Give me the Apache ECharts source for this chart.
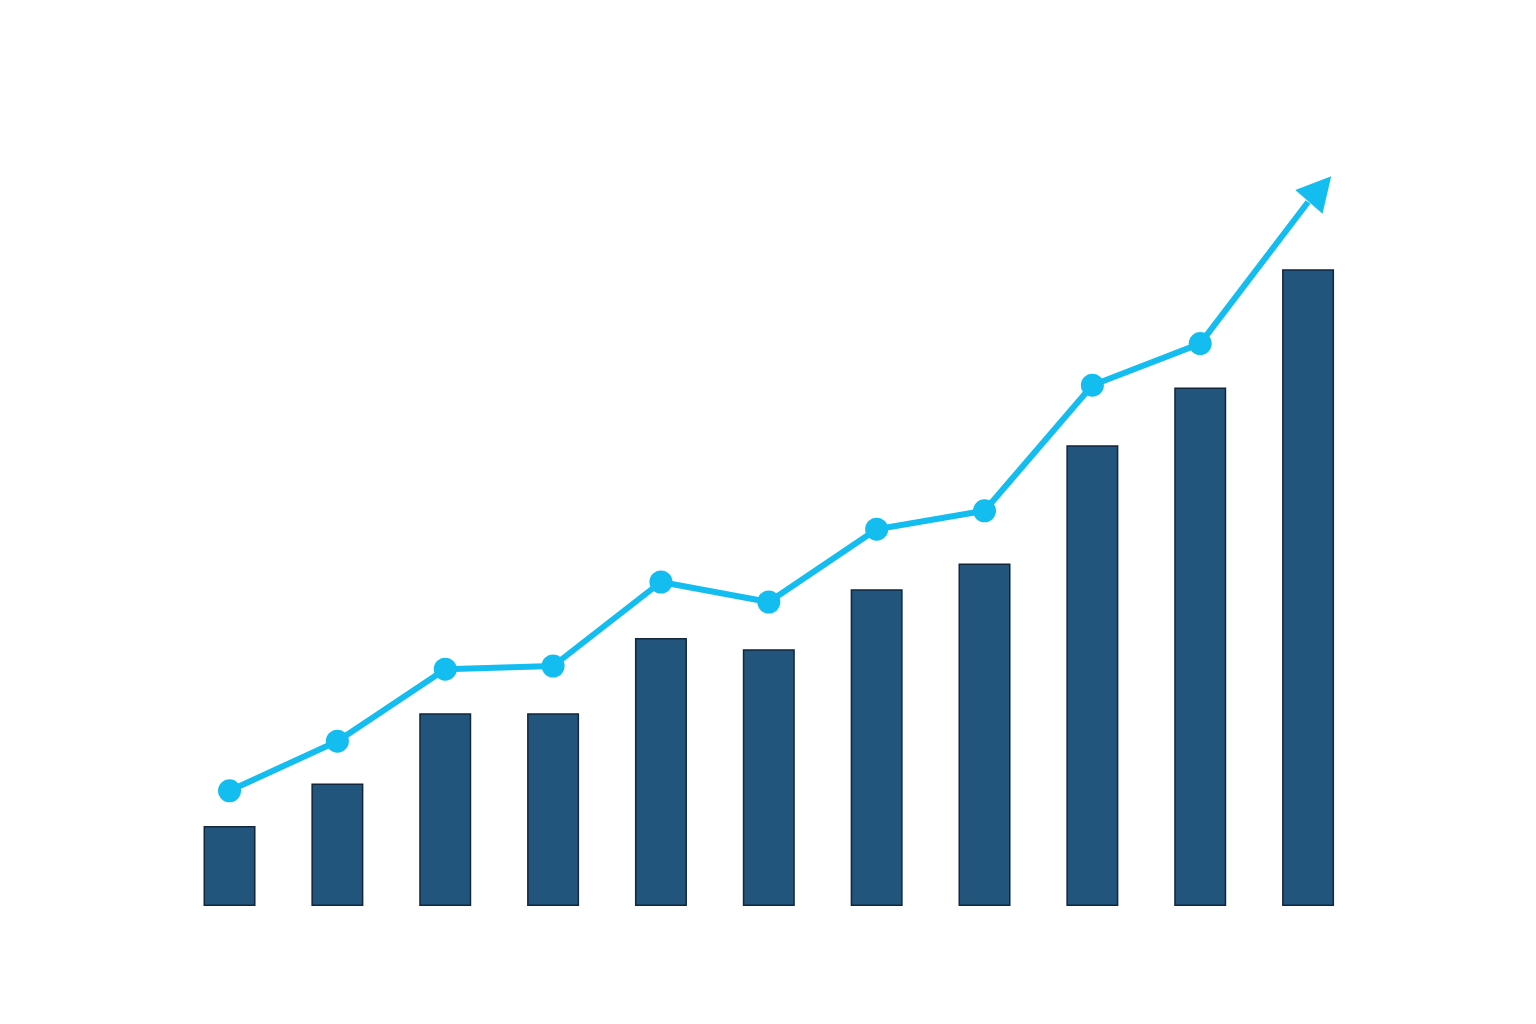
<!DOCTYPE html>
<html>
<head>
<meta charset="utf-8">
<script src="https://cdn.jsdelivr.net/npm/echarts@6/dist/echarts.min.js"></script>
<style>html,body{margin:0;padding:0;background:#fff}#c{width:1536px;height:1024px}</style>
</head>
<body>
<div id="c"></div>
<script>
var categories = ['1','2','3','4','5','6','7','8','9','10','11'];
var barValues = [10, 15.3, 24.1, 24.1, 33.5, 32.1, 39.6, 42.8, 57.6, 64.8, 79.6];
var lineValues = [14.4, 20.6, 29.6, 30, 40.5, 38, 47.1, 49.4, 65.1, 70.3, 88];

var lineData = lineValues.map(function (v, i) {
  if (i === lineValues.length - 1) {
    return {
      value: v,
      symbol: 'triangle',
      symbolSize: [36, 34],
      symbolRotate: -41,
      symbolOffset: [12, -13]
    };
  }
  return v;
});

var chart = echarts.init(document.getElementById('c'));
chart.setOption({
  backgroundColor: '#ffffff',
  animation: false,
  grid: { left: 175.6, right: 174, top: 106, bottom: 118 },
  xAxis: {
    type: 'category', data: categories, show: false
  },
  yAxis: { type: 'value', min: 0, max: 100, show: false },
  series: [
    {
      type: 'bar', data: barValues, barWidth: 52,
      itemStyle: { color: '#22557B', borderColor: '#12263d', borderWidth: 1.5 },
      z: 2
    },
    {
      type: 'line', data: lineData,
      symbol: 'circle', symbolSize: 23,
      lineStyle: { color: '#14BDEF', width: 6 },
      itemStyle: { color: '#14BDEF' },
      z: 3
    }
  ]
});
</script>
</body>
</html>
